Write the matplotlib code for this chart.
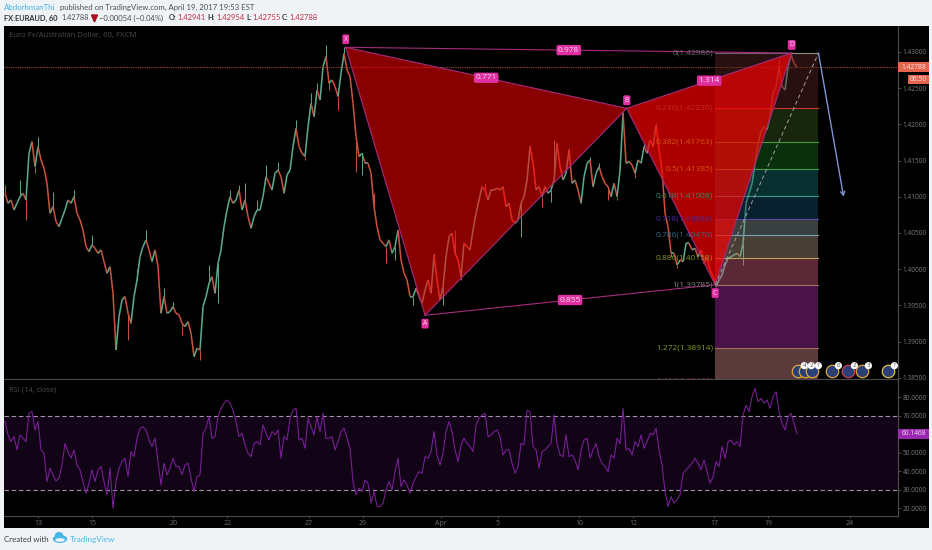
from matplotlib.collections import LineCollection
from matplotlib.patches import Ellipse, Rectangle
import matplotlib.pyplot as plt
import numpy as np

plt.rcParams["font.family"] = ["Open Sans", "DejaVu Sans"]

W, H = 932, 550
HEAD_FONT = ["Lato", "DejaVu Sans"]

# hourly closes, one reading every few bars
closes = [
    1.41048, 1.40910, 1.40956, 1.40818, 1.40910, 1.41002, 1.41048, 1.40956, 1.41601, 1.41762, 1.41416, 1.41693,
    1.41509, 1.41393, 1.41186, 1.40772, 1.40864, 1.40657, 1.40588, 1.40703, 1.40818, 1.40956, 1.40910, 1.41002,
    1.40772, 1.40680, 1.40542, 1.40312, 1.40242, 1.40335, 1.40289, 1.40219, 1.40266, 1.40104, 1.39943, 1.40035,
    1.39667, 1.38884, 1.39345, 1.39575, 1.39621, 1.39391, 1.39253, 1.39621, 1.39851, 1.40173, 1.40312, 1.40404,
    1.40266, 1.40104, 1.40266, 1.40035, 1.39391, 1.39621, 1.39391, 1.39414, 1.39483, 1.39391, 1.39368, 1.39253,
    1.39207, 1.39276, 1.39114, 1.38792, 1.38907, 1.38884, 1.39483, 1.39621, 1.39805, 1.39897, 1.39667, 1.40081,
    1.40266, 1.40588, 1.40818, 1.41002, 1.40910, 1.40956, 1.41094, 1.40818, 1.40956, 1.40726, 1.40565, 1.40726,
    1.40818, 1.40818, 1.41002, 1.41278, 1.41186, 1.41094, 1.41324, 1.41370, 1.41278, 1.41048, 1.41301, 1.41370,
    1.41693, 1.41946, 1.41693, 1.41601, 1.41555, 1.41969, 1.42291, 1.42107, 1.42475, 1.42337, 1.42798, 1.42936,
    1.42567, 1.42614, 1.42521, 1.42383, 1.42706, 1.42982, 1.42752, 1.42660, 1.42291, 1.41831, 1.41555, 1.41601,
    1.41463, 1.41463, 1.41324, 1.40864, 1.40588, 1.40404, 1.40358, 1.40312, 1.40404, 1.40219, 1.40312, 1.40542,
    1.40127, 1.39943, 1.39851, 1.39621, 1.39621, 1.39736, 1.39621, 1.39529, 1.39713, 1.39851, 1.39667, 1.40196,
    1.39851, 1.39575, 1.39759, 1.40173, 1.40450, 1.40496, 1.40219, 1.40127, 1.39897, 1.40358, 1.40312, 1.40266,
    1.40542, 1.40772, 1.40956, 1.41140, 1.41094, 1.40956, 1.41094, 1.41094, 1.41117, 1.41094, 1.41140, 1.40864,
    1.40910, 1.40680, 1.40634, 1.40680, 1.40910, 1.41002, 1.41232, 1.41693, 1.41463, 1.41094, 1.41140, 1.41002,
    1.41140, 1.41048, 1.41094, 1.41232, 1.41739, 1.41416, 1.41232, 1.41324, 1.41647, 1.41186, 1.41232, 1.41094,
    1.40910, 1.41278, 1.41463, 1.41509, 1.41140, 1.41324, 1.41416, 1.41278, 1.41186, 1.41140, 1.41002, 1.41186,
    1.41002, 1.41370, 1.42153, 1.41463, 1.41486, 1.41439, 1.41324, 1.41509, 1.41463, 1.41693, 1.41601, 1.41785,
    1.41693, 1.41992, 1.41647, 1.41370, 1.40772, 1.40588, 1.40219, 1.40219, 1.40058, 1.40127, 1.40104, 1.40358,
    1.40358, 1.40266, 1.40289, 1.40173, 1.40266, 1.40081, 1.40173, 1.39989, 1.39897, 1.39759,
    1.39851, 1.39920, 1.40058, 1.40150, 1.40173, 1.40196, 1.40219, 1.40173, 1.40357, 1.40910,
    1.41048, 1.41186, 1.41462, 1.41739, 1.41900, 1.41969, 1.41923, 1.42107, 1.42429, 1.42521, 1.42798, 1.42521,
    1.42475, 1.42798, 1.42959, 1.42844, 1.42788,
]

# the wicks that stand out: which reading they belong to and where their tip is
wick_bars = [0, 5, 7, 11, 10, 16, 23, 29, 41, 42, 44, 47, 53, 56, 59, 65, 68, 71, 75, 78, 80, 84, 87, 91, 97, 100,
             102, 104, 107, 108, 111, 113, 117, 119, 123, 127, 130, 136, 143, 146, 150, 152, 156, 160, 172, 175,
             179, 182, 183, 188, 192, 195, 198, 201, 204, 206, 210, 213, 217, 222, 224, 246, 258]
wick_tips = [1.41163, 1.41232, 1.40680, 1.41831, 1.41324, 1.41071, 1.41094, 1.40473, 1.39022, 1.39299, 1.39989,
             1.40542, 1.39736, 1.39552, 1.39091, 1.38746, 1.40058, 1.39529, 1.41094, 1.41163, 1.41186, 1.40956,
             1.41439, 1.41486, 1.42061, 1.41509, 1.42429, 1.42567, 1.43097, 1.42475, 1.42199, 1.43074, 1.41347,
             1.41301, 1.41048, 1.40081, 1.40127, 1.39506, 1.40219, 1.39506, 1.40542, 1.39851, 1.40565, 1.41186,
             1.40450, 1.41716, 1.40864, 1.40933, 1.41785, 1.41670, 1.40910, 1.41555, 1.41463, 1.40956, 1.40956,
             1.42176, 1.41255, 1.41739, 1.42015, 1.40173, 1.40012, 1.40058, 1.42913]

rsi = [
    66.8, 59.6, 56.0, 58.7, 51.5, 59.6, 57.8, 56.0, 71.3, 72.2, 62.3, 66.8, 51.5, 49.7, 34.4, 41.6, 38.0, 34.7,
    36.2, 43.4, 55.0, 50.6, 47.0, 51.5, 43.4, 40.7, 34.4, 28.0, 33.5, 40.7, 34.4, 40.7, 42.5, 34.4, 27.2, 41.6,
    20.0, 34.4, 41.6, 45.2, 47.0, 37.0, 50.6, 47.9, 57.8, 63.2, 64.0, 62.3, 56.9, 53.3, 57.8, 45.2, 32.6, 44.3,
    38.0, 41.6, 47.0, 42.5, 42.5, 38.0, 43.4, 44.3, 36.2, 29.0, 37.0, 38.0, 60.5, 63.2, 69.5, 57.8, 58.7, 69.5,
    74.0, 76.7, 78.5, 76.7, 73.0, 66.8, 58.7, 60.5, 54.2, 49.7, 47.9, 55.0, 56.0, 54.2, 65.0, 60.5, 56.9, 61.4,
    59.6, 62.3, 47.0, 58.7, 56.9, 68.6, 73.0, 74.0, 56.9, 57.8, 52.4, 68.6, 64.0, 59.6, 69.5, 61.4,
    71.3, 57.8, 57.8, 58.7, 51.5, 56.0, 61.4, 63.2, 57.8, 52.4, 34.4, 27.2, 30.8, 29.0, 35.3, 33.5, 22.7, 29.0,
    20.9, 20.9, 22.7, 29.9, 34.4, 29.9, 39.8, 47.0, 31.7, 35.3, 32.6, 28.0, 33.5, 37.0, 39.8, 38.9, 47.9, 47.0,
    50.6, 61.4, 48.8, 43.4, 49.7, 61.4, 66.8, 61.4, 51.5, 45.2, 54.2, 57.8, 55.0, 53.3, 50.6, 65.0, 68.6, 70.4,
    71.3, 58.7, 59.6, 61.4, 62.3, 58.7, 48.8, 51.5, 51.5, 44.3, 38.9, 42.5, 55.0, 54.2, 73.0, 72.2, 53.3, 51.5,
    41.6, 50.6, 51.5, 53.3, 55.0, 70.4, 55.0, 48.8, 47.9, 59.6, 47.9, 48.8, 46.0, 40.7, 51.5, 56.9, 57.8, 47.0,
    51.5, 55.0, 47.9, 44.3, 42.5, 39.8, 48.8, 47.0, 57.8, 55.0, 74.0, 51.5, 52.4, 48.8, 56.0, 53.3,
    59.6, 52.4, 56.0, 60.5, 59.6, 63.2, 51.5, 43.4, 29.0, 20.9, 26.3, 22.7, 24.5, 27.2, 38.9, 40.7, 42.5, 44.3,
    47.0, 44.3, 40.7, 46.0, 39.8, 33.5, 37.0, 45.2, 42.5, 53.3, 47.0, 56.0, 56.9, 54.2, 56.0, 53.3, 70.4, 75.8,
    72.2, 80.3, 84.8, 77.6, 79.4, 76.7, 78.5, 74.0, 80.3, 83.0, 72.2, 65.9, 62.3, 69.5, 71.3, 65.9, 60.15,
]

date_labels = ["13", "15", "20", "22", "27", "29", "Apr", "5", "10", "12", "17", "19", "24"]
date_days = [0, 2, 5, 7, 10, 12, 14.9, 17, 20, 22, 25, 27, 30]

price_ticks = [1.385, 1.39, 1.395, 1.40, 1.405, 1.41, 1.415, 1.42, 1.425, 1.43]
rsi_ticks = [20, 30, 40, 50, 70, 80]

pattern_names = ["X", "A", "B", "C", "D"]
pattern_days = [11.375, 14.307, 21.763, 25.03, 27.86]
pattern_prices = [1.43065, 1.39363, 1.42222, 1.39785, 1.42986]

fib_ratios = ["0", "0.236", "0.382", "0.5", "0.618", "0.718", "0.786", "0.886", "1", "1.272", "1.414"]
fib_prices = [1.42986, 1.42230, 1.41763, 1.41385, 1.41008, 1.40688, 1.40470, 1.40150, 1.39785, 1.38914, 1.38460]
fib_text_colors = ["#6d6d6d", "#c62a1c", "#d2570f", "#d2570f", "#3f8a6a", "#4a2aa0", "#3a6a8a",
                   "#8a9a20", "#808080", "#8a9a20", "#a03030"]
fib_line_colors = ["#70606a", "#c8382c", "#4c9a3c", "#3fa050", "#3a9a8a", "#5a4aa0", "#7fa0b0",
                   "#c0a060", "#a07070", "#a07060"]
fib_band_colors = ["#5d2424", "#36551d", "#146a1e", "#146c6c", "#144a6a", "#818c8c", "#a08e7c",
                   "#c8597c", "#a428a0", "#c88181"]

event_days = [28.09, 28.35, 28.61, 29.35, 29.94, 30.46, 31.42]
event_counts = ["4", "2", "?", "6", "2", "3", "?"]
event_edges = ["#e0a63c", "#e0a63c", "#e0a63c", "#e0a63c", "#d0404a", "#e0a63c", "#e0c040"]

ratio_labels = ["0.771", "0.978", "1.314", "0.855"]
ratio_legs = [(0, 2), (0, 4), (2, 4), (1, 3)]


def px_x(x):
    return x / W


def px_y(y):
    return 1 - y / H


def axes_at(left, top, right, bottom):
    ax = fig.add_axes([px_x(left), px_y(bottom), (right - left) / W, (bottom - top) / H])
    ax.set_facecolor("black")
    ax.set_xlim(-1.257, 31.79)
    for side in ["top", "left", "bottom"]:
        ax.spines[side].set_visible(False)
    ax.spines["right"].set_color("#4a4a4a")
    ax.spines["right"].set_linewidth(0.9)
    ax.yaxis.tick_right()
    ax.tick_params(axis="y", length=2, width=0.6, color="#555555", labelcolor="#7c7c7c", labelsize=4.7, pad=1.5)
    return ax


def scale_box(ax, value, height, color, label, left=0.0, width=0.0347, text_color="#f4e8e8"):
    ax.add_patch(Rectangle((1 + left, value - height / 2), width, height, transform=ax.get_yaxis_transform(),
                           facecolor=color, edgecolor="none", clip_on=False, zorder=8))
    ax.text(1 + left + width / 2, value, label, transform=ax.get_yaxis_transform(), ha="center", va="center",
            fontsize=4.8, color=text_color, clip_on=False, zorder=9)


def pink_label(ax, x, y, text, dy=0.0, size=6.0):
    ax.annotate(text, (x, y), xytext=(0, dy), textcoords="offset points", ha="center", va="center",
                fontsize=size, color="#f7dcef", zorder=12,
                bbox=dict(boxstyle="round,pad=0.2", facecolor="#df2fa0", edgecolor="none"))


fig = plt.figure(figsize=(W / 100, H / 100), dpi=100, facecolor="#f0f3f6")
fig.add_artist(Rectangle((px_x(4), px_y(528)), (929 - 4) / W, (528 - 26) / H, transform=fig.transFigure,
                         facecolor="black", edgecolor="none", zorder=-5))

ax = axes_at(4, 26, 898, 379)
ax.set_ylim(1.38483, 1.43359)
ax.set_yticks(price_ticks)
ax.set_yticklabels([f"{p:.5f}" for p in price_ticks])
ax.set_xticks([])

# bars sit 3 px apart on the time scale
bar_days = -1.22 + np.arange(len(closes)) * 3 / 27.05
rsi_days = -1.22 + np.arange(len(rsi)) * 3 / 27.05

points = np.column_stack([bar_days, closes])
segments = np.stack([points[:-1], points[1:]], axis=1)
seg_colors = ["#5ba88c" if b >= a else "#c9503c" for a, b in zip(closes[:-1], closes[1:])]
ax.add_collection(LineCollection(segments, colors=seg_colors, linewidths=1.15, zorder=2))
ax.vlines(bar_days[wick_bars], [closes[i] for i in wick_bars], wick_tips,
          colors=[seg_colors[max(i - 1, 0)] for i in wick_bars], linewidths=0.7, zorder=2)

# last price
ax.axhline(closes[-1], color="#a8452f", linewidth=0.8, linestyle=(0, (1, 1)), zorder=3)

# fib zone
left_day, right_day = 25.04, 28.85
for i, band in enumerate(fib_band_colors):
    ax.fill_between([left_day, right_day], fib_prices[i], fib_prices[i + 1], facecolor=band, alpha=0.45,
                    edgecolor="none", zorder=3)
    ax.plot([left_day, right_day], [fib_prices[i], fib_prices[i]], color=fib_line_colors[i], linewidth=0.8, zorder=3)

# bat pattern legs
ax.fill([pattern_days[i] for i in (0, 1, 2)], [pattern_prices[i] for i in (0, 1, 2)],
        facecolor="#ff0000", alpha=0.54, edgecolor="none", zorder=4)
ax.fill([pattern_days[i] for i in (2, 3, 4)], [pattern_prices[i] for i in (2, 3, 4)],
        facecolor="#ff0000", alpha=0.68, edgecolor="none", zorder=4)
for a, b in [(0, 1), (1, 2), (0, 2), (2, 3), (3, 4), (2, 4), (0, 4), (1, 3)]:
    ax.plot([pattern_days[a], pattern_days[b]], [pattern_prices[a], pattern_prices[b]], color="#a32c7c",
            linewidth=0.8, zorder=5)

for ratio, price, color in zip(fib_ratios, fib_prices, fib_text_colors):
    ax.annotate(f"{ratio}({price:.5f})", (left_day, price), xytext=(-1.6, 0), textcoords="offset points",
                ha="right", va="center", fontsize=6.0, color=color, zorder=6, annotation_clip=False, clip_on=True)

# projection
ax.plot([pattern_days[4], right_day], [fib_prices[0], fib_prices[0]], color="#8a8a8a", linewidth=0.8, zorder=6)
ax.plot([pattern_days[3], right_day], [fib_prices[8], fib_prices[0]], color="#a0a0a0", linewidth=0.7,
        linestyle=(0, (4, 3)), zorder=6)
ax.annotate("", xy=(29.78, 1.40999), xytext=(right_day, fib_prices[0]),
            arrowprops=dict(arrowstyle="->", color="#7f93d6", linewidth=1.0, shrinkA=0, shrinkB=0,
                            mutation_scale=7), zorder=7)

for text, (a, b) in zip(ratio_labels, ratio_legs):
    pink_label(ax, (pattern_days[a] + pattern_days[b]) / 2, (pattern_prices[a] + pattern_prices[b]) / 2, text)
for name, day, price, dy in zip(pattern_names, pattern_days, pattern_prices, [5.8, -6, 5.8, -6, 5.8]):
    pink_label(ax, day, price, name, dy=dy, size=5.0)

ax.text(5 / 894, 1 - 10 / 353, "Euro Fx/Australian Dollar, 60, FXCM", transform=ax.transAxes, ha="left",
        va="center", fontsize=5.6, color="#4a4a4a", zorder=9)

# economic events along the pane bottom
event_price = 1.38598
for day, count, edge in zip(event_days, event_counts, event_edges):
    ax.scatter([day], [event_price], s=80, facecolor="#2a3f78", edgecolor=edge, linewidth=0.9, zorder=9)
    ax.annotate(count, (day, event_price), xytext=(4.6, 3.6), textcoords="offset points", ha="center", va="center",
                fontsize=4.4, color="#444444", zorder=11,
                bbox=dict(boxstyle="circle,pad=0.18", facecolor="white", edgecolor="none"))

scale_box(ax, closes[-1], 0.00138, "#e8644c", f"{closes[-1]:.5f}")
scale_box(ax, 1.42626, 0.00124, "#e8644c", "06:50", left=0.011, width=0.0232)

rax = axes_at(4, 379, 898, 516)
rax.set_ylim(15.78, 89.84)
rax.spines["bottom"].set_visible(True)
rax.spines["bottom"].set_color("#4a4a4a")
rax.spines["top"].set_visible(True)
rax.spines["top"].set_color("#4a4a4a")
rax.axhspan(30, 70, facecolor="#110416", edgecolor="none", zorder=1)
rax.axhline(70, color="#a78fb2", linewidth=0.8, linestyle=(0, (4, 2.5)), zorder=2)
rax.axhline(30, color="#a78fb2", linewidth=0.8, linestyle=(0, (4, 2.5)), zorder=2)
rax.plot(rsi_days, rsi, color="#7d1f9c", linewidth=0.75, zorder=3)
rax.set_yticks(rsi_ticks)
rax.set_yticklabels([f"{v:.4f}" for v in rsi_ticks])
rax.set_xticks(date_days)
rax.set_xticklabels(date_labels)
rax.tick_params(axis="x", length=1.5, width=0.6, color="#555555", labelcolor="#6e6e6e", labelsize=5, pad=1.5)
rax.text(5 / 894, 1 - 11 / 137, "RSI (14, close)", transform=rax.transAxes, ha="left", va="center",
         fontsize=5.4, color="#4d4d4d")
scale_box(rax, rsi[-1], 5.4, "#9c27b0", "60.1468", text_color="#f0dcf4")

# header
fig.text(px_x(4), px_y(7), "AbdorhmanThi", fontsize=5.7, family=HEAD_FONT, color="#45b4e6", va="center", ha="left")
fig.text(px_x(59.5), px_y(7), "published on TradingView.com, April 19, 2017 19:53 EST", fontsize=5.55,
         family=HEAD_FONT, color="#4a4f57", va="center", ha="left")
fig.text(px_x(4), px_y(18), "FX:EURAUD, 60", fontsize=5.3, family=HEAD_FONT, color="#2c3038", va="center", ha="left",
         fontweight="bold")
fig.text(px_x(61), px_y(18), "1.42788", fontsize=5.3, family=HEAD_FONT, color="#4a4f57", va="center", ha="left")
ax_head = fig.add_axes([0, 0, 1, 1], facecolor="none")
ax_head.set_xlim(0, W)
ax_head.set_ylim(H, 0)
ax_head.axis("off")
ax_head.fill([91.5, 97.5, 94.5], [15, 15, 22], color="#a81020", zorder=1)
fig.text(px_x(99), px_y(18), "\u22120.00054 (\u22120.04%)", fontsize=5.5, family=HEAD_FONT, color="#4a4f57",
         va="center", ha="left")
for name, x_name, val, x_val in [("O:", 169, "1.42941", 177), ("H:", 207.5, "1.42954", 216),
                                 ("L:", 246, "1.42755", 252), ("C:", 282, "1.42788", 289)]:
    fig.text(px_x(x_name), px_y(18), name, fontsize=5.3, family=HEAD_FONT, color="#2c3038", va="center", ha="left",
             fontweight="bold")
    fig.text(px_x(x_val), px_y(18), val, fontsize=5.5, family=HEAD_FONT, color="#c0304a", va="center", ha="left")

# footer
fig.text(px_x(4), px_y(539.5), "Created with", fontsize=5.7, family=HEAD_FONT, color="#3a3f47", va="center", ha="left")
fig.text(px_x(70), px_y(539.5), "TradingView", fontsize=5.9, family=HEAD_FONT, color="#4ab8e8", va="center", ha="left")
ax_head.add_patch(Ellipse((60, 539), 13, 6.5, color="#45b4e6"))
ax_head.add_patch(Ellipse((59, 535.5), 7, 5.5, color="#45b4e6"))
ax_head.add_patch(Ellipse((60, 540), 8, 2.2, color="#f0f3f6"))

fig.savefig("out.png", dpi=100)
